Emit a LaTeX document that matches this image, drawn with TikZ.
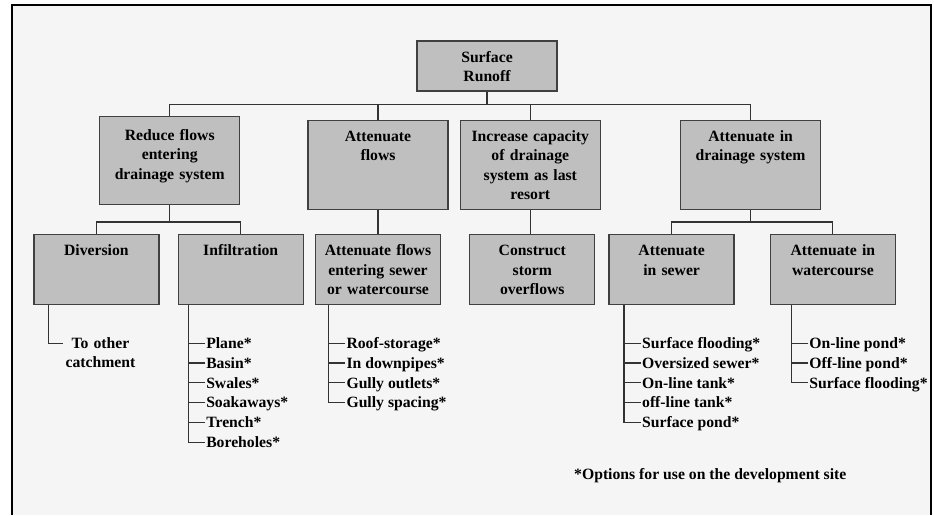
\documentclass[tikz,border=0pt]{standalone}
\usepackage{fontspec}
\setmainfont{Liberation Serif}
\usetikzlibrary{positioning}

\begin{document}
\begin{tikzpicture}[
        font=\fontsize{15.7pt}{19.4pt}\selectfont\bfseries,
        node distance=28pt and 11pt,
        head/.style={draw=black!75, line width=1.3pt, fill=black!25, align=center, inner sep=0pt, text width=140pt, text height=21pt, text depth=#1},
        head/.default=68pt,
        act/.style={head=49pt, text width=125pt},
        opt/.style={inner xsep=1pt, inner ysep=1pt, align=center, text height=14pt, text depth=3.4pt},
        wire/.style={draw=black!80, line width=1.1pt}
    ]
        \useasboundingbox (0,0) rectangle (934pt,-515pt);
        \fill[black!4] (12pt,-5pt) rectangle (931pt,-515pt);
        \draw[line width=2.5pt] (12pt,-515pt) -- (12pt,-5pt) -- (931pt,-5pt) -- (931pt,-515pt);

        \node[head=29pt] (runoff) at (487pt,-66pt) {Surface\\Runoff};
        \node[head, below=of runoff, xshift=-109pt] (attflows) {Attenuate\\flows};
        \node[head, right=of attflows] (capacity) {Increase capacity\\of drainage\\system as last\\resort};
        \node[head, right=79pt of capacity] (attdrain) {Attenuate in\\drainage system};
        \node[head=64pt, text height=24pt, left=67pt of attflows, yshift=4.5pt] (reduce) {Reduce flows\\entering\\drainage system};

        \node[act, below=24pt of attflows] (entering) {Attenuate flows\\entering sewer\\or watercourse};
        \node[act, left=of entering] (infil) {Infiltration};
        \node[act, left=18pt of infil] (diversion) {Diversion};
        \node[act, right=28pt of entering] (storm) {Construct\\storm\\overflows};
        \node[act, right=13pt of storm] (sewer) {Attenuate\\in sewer};
        \node[act, right=35pt of sewer] (water) {Attenuate in\\watercourse};

        \draw[wire] (runoff.south) -- ++(0,-13pt) -| (reduce.north);
        \draw[wire] (runoff.south) -- ++(0,-13pt) -| (attflows.north);
        \draw[wire] (runoff.south) -- ++(0,-13pt) -| (capacity.north);
        \draw[wire] (runoff.south) -- ++(0,-13pt) -| (attdrain.north);
        \draw[wire] (reduce.south) -- ++(0,-17pt) -| (diversion.north);
        \draw[wire] (reduce.south) -- ++(0,-17pt) -| (infil.north);
        \draw[wire] (attflows.south) -- (entering.north);
        \draw[wire] (capacity.south) -- (capacity.south |- storm.north);
        \draw[wire] (attdrain.south) -- ++(0,-12pt) -| (sewer.north);
        \draw[wire] (attdrain.south) -- ++(0,-12pt) -| (water.north);

        % options under each measure
        \node[opt, text width=72pt, below right=28pt and 30pt of diversion.south west] (other) {To other\\catchment};
        \draw[wire] (diversion.south -| other.west) ++(-15pt,0) |- (other.west);

        \node[opt, below right=28pt and 27.5pt of infil.south west] (plane) {Plane*};
        \node[opt, below=0pt of plane.south west, anchor=north west] (basin) {Basin*};
        \node[opt, below=0pt of basin.south west, anchor=north west] (swales) {Swales*};
        \node[opt, below=0pt of swales.south west, anchor=north west] (soak) {Soakaways*};
        \node[opt, below=0pt of soak.south west, anchor=north west] (trench) {Trench*};
        \node[opt, below=0pt of trench.south west, anchor=north west] (bore) {Boreholes*};
        \draw[wire] (infil.south -| plane.west) ++(-17pt,0) |- (bore.west);
        \draw[wire] (plane.west) -- ++(-17pt,0) (basin.west) -- ++(-17pt,0) (swales.west) -- ++(-17pt,0)
            (soak.west) -- ++(-17pt,0) (trench.west) -- ++(-17pt,0);

        \node[opt, below right=28pt and 30.5pt of entering.south west] (roof) {Roof-storage*};
        \node[opt, below=0pt of roof.south west, anchor=north west] (pipes) {In downpipes*};
        \node[opt, below=0pt of pipes.south west, anchor=north west] (gully) {Gully outlets*};
        \node[opt, below=0pt of gully.south west, anchor=north west] (spacing) {Gully spacing*};
        \draw[wire] (entering.south -| roof.west) ++(-17pt,0) |- (spacing.west);
        \draw[wire] (roof.west) -- ++(-17pt,0) (pipes.west) -- ++(-17pt,0) (gully.west) -- ++(-17pt,0);

        \node[opt, below right=28pt and 32.5pt of sewer.south west] (flood) {Surface flooding*};
        \node[opt, below=0pt of flood.south west, anchor=north west] (oversized) {Oversized sewer*};
        \node[opt, below=0pt of oversized.south west, anchor=north west] (ontank) {On-line tank*};
        \node[opt, below=0pt of ontank.south west, anchor=north west] (offtank) {off-line tank*};
        \node[opt, below=0pt of offtank.south west, anchor=north west] (spond) {Surface pond*};
        \draw[wire] (sewer.south -| flood.west) ++(-17pt,0) |- (spond.west);
        \draw[wire] (flood.west) -- ++(-17pt,0) (oversized.west) -- ++(-17pt,0) (ontank.west) -- ++(-17pt,0)
            (offtank.west) -- ++(-17pt,0);

        \node[opt, below right=28pt and 38.5pt of water.south west] (onpond) {On-line pond*};
        \node[opt, below=0pt of onpond.south west, anchor=north west] (offpond) {Off-line pond*};
        \node[opt, below=0pt of offpond.south west, anchor=north west] (wflood) {Surface flooding*};
        \draw[wire] (water.south -| onpond.west) ++(-17pt,0) |- (wflood.west);
        \draw[wire] (onpond.west) -- ++(-17pt,0) (offpond.west) -- ++(-17pt,0);

        \node[opt, anchor=west] (note) at (573pt,-474pt) {*Options for use on the development site};
    \end{tikzpicture}
\end{document}
